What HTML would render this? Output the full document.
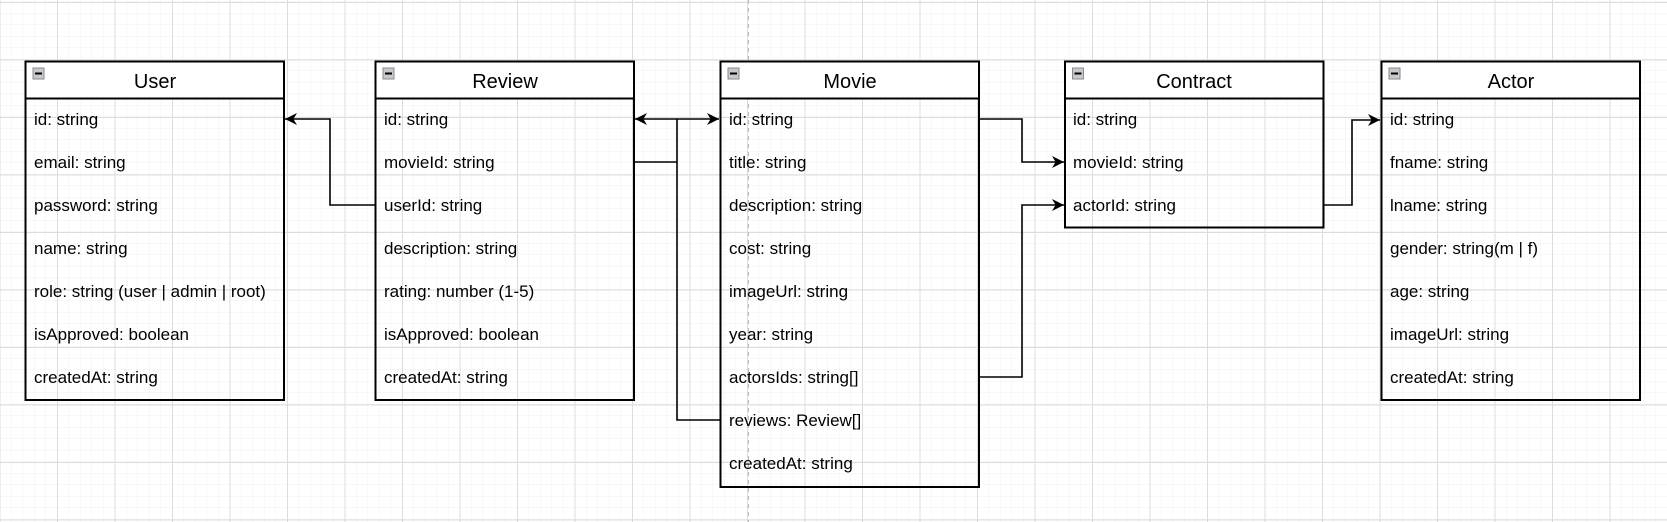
<!DOCTYPE html>
<html><head><meta charset="utf-8"><style>
html,body{margin:0;padding:0;background:#fff;}
svg{display:block;}
text{font-family:"Liberation Sans",Arial,sans-serif;fill:#000;}
</style></head><body>
<svg width="1667" height="522" viewBox="0 0 1667 522" xmlns="http://www.w3.org/2000/svg">
<defs>
<pattern id="minor" width="11.5" height="11.5" patternUnits="userSpaceOnUse" x="0" y="2">
<path d="M11.5 0V11.5M0 11.5H11.5" stroke="#f0f0f0" stroke-width="1" fill="none"/>
</pattern>
<pattern id="major" width="57.5" height="57.5" patternUnits="userSpaceOnUse" x="-0.5" y="2">
<path d="M0.5 0V57.5M0 0.5H57.5" stroke="#dcdcdc" stroke-width="1" fill="none"/>
</pattern>
<marker id="ah" viewBox="0 0 10 10" refX="10" refY="5" markerWidth="12" markerHeight="12" markerUnits="userSpaceOnUse" orient="auto-start-reverse">
<path d="M0 0L10 5L0 10L3 5Z" fill="#000"/>
</marker>
</defs>
<rect width="1667" height="522" fill="url(#minor)"/>
<rect width="1667" height="522" fill="url(#major)"/>
<line x1="748.5" y1="0" x2="748.5" y2="522" stroke="#bbb" stroke-width="1" stroke-dasharray="4,4"/>

<g fill="none" stroke="#000" stroke-width="1.6">
<polyline points="375,205 330,205 330,119 285,119" marker-end="url(#ah)"/>
<line x1="635" y1="119" x2="719" y2="119" marker-start="url(#ah)" marker-end="url(#ah)"/>
<polyline points="634,162 677,162"/>
<polyline points="677,119 677,420 720,420"/>
<polyline points="979,119 1022,119 1022,162 1064,162" marker-end="url(#ah)"/>
<polyline points="979,377 1022,377 1022,205 1064,205" marker-end="url(#ah)"/>
<polyline points="1324,205 1352,205 1352,120 1380,120" marker-end="url(#ah)"/>
</g>

<!-- boxes -->
<g stroke="#000" stroke-width="2">
<rect x="25.5" y="61.5" width="258.5" height="37" fill="#fff"/>
<rect x="25.5" y="61.5" width="258.5" height="338.5" fill="none"/>
<rect x="375.5" y="61.5" width="258.5" height="37" fill="#fff"/>
<rect x="375.5" y="61.5" width="258.5" height="338.5" fill="none"/>
<rect x="720.5" y="61.5" width="258.5" height="37" fill="#fff"/>
<rect x="720.5" y="61.5" width="258.5" height="425.5" fill="none"/>
<rect x="1065" y="61.5" width="258.5" height="37" fill="#fff"/>
<rect x="1065" y="61.5" width="258.5" height="166" fill="none"/>
<rect x="1381.5" y="61.5" width="258.5" height="37" fill="#fff"/>
<rect x="1381.5" y="61.5" width="258.5" height="338.5" fill="none"/>
</g>
<g>
<g fill="#c8c8cc" stroke="#8a8a90" stroke-width="1">
<rect x="33" y="68" width="11" height="11"/><rect x="383" y="68" width="11" height="11"/><rect x="728" y="68" width="11" height="11"/><rect x="1072.5" y="68" width="11" height="11"/><rect x="1389" y="68" width="11" height="11"/>
</g>
<g stroke="#000" stroke-width="2">
<line x1="35" y1="73.5" x2="42" y2="73.5"/><line x1="385" y1="73.5" x2="392" y2="73.5"/><line x1="730" y1="73.5" x2="737" y2="73.5"/><line x1="1074.5" y1="73.5" x2="1081.5" y2="73.5"/><line x1="1391" y1="73.5" x2="1398" y2="73.5"/>
</g>
</g>

<g font-size="20" text-anchor="middle">
<text x="155" y="88">User</text>
<text x="505" y="88">Review</text>
<text x="850" y="88">Movie</text>
<text x="1194" y="88">Contract</text>
<text x="1511" y="88">Actor</text>
</g>

<g font-size="17">
<text x="34" y="125">id: string</text>
<text x="34" y="168">email: string</text>
<text x="34" y="211">password: string</text>
<text x="34" y="254">name: string</text>
<text x="34" y="297">role: string (user | admin | root)</text>
<text x="34" y="340">isApproved: boolean</text>
<text x="34" y="383">createdAt: string</text>

<text x="384" y="125">id: string</text>
<text x="384" y="168">movieId: string</text>
<text x="384" y="211">userId: string</text>
<text x="384" y="254">description: string</text>
<text x="384" y="297">rating: number (1-5)</text>
<text x="384" y="340">isApproved: boolean</text>
<text x="384" y="383">createdAt: string</text>

<text x="729" y="125">id: string</text>
<text x="729" y="168">title: string</text>
<text x="729" y="211">description: string</text>
<text x="729" y="254">cost: string</text>
<text x="729" y="297">imageUrl: string</text>
<text x="729" y="340">year: string</text>
<text x="729" y="383">actorsIds: string[]</text>
<text x="729" y="426">reviews: Review[]</text>
<text x="729" y="469">createdAt: string</text>

<text x="1073" y="125">id: string</text>
<text x="1073" y="168">movieId: string</text>
<text x="1073" y="211">actorId: string</text>

<text x="1390" y="125">id: string</text>
<text x="1390" y="168">fname: string</text>
<text x="1390" y="211">lname: string</text>
<text x="1390" y="254">gender: string(m | f)</text>
<text x="1390" y="297">age: string</text>
<text x="1390" y="340">imageUrl: string</text>
<text x="1390" y="383">createdAt: string</text>
</g>
</svg>
</body></html>
